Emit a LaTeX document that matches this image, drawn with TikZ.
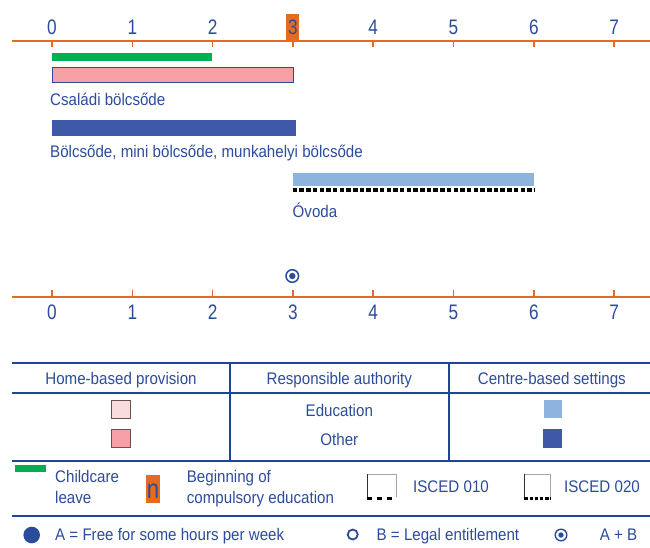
\documentclass[tikz,border=0pt]{standalone}
\usepackage{fontspec}
\setmainfont{Liberation Sans}[FakeStretch=0.9]
\newfontfamily\yearfont{Liberation Sans}[FakeStretch=0.82]

\definecolor{axisorange}{HTML}{E46C22}
\definecolor{txtblue}{HTML}{2B4C9B}
\definecolor{ruleblue}{HTML}{1F4395}
\definecolor{leavegreen}{HTML}{00B050}
\definecolor{homeother}{HTML}{F4A0A4}
\definecolor{homeedu}{HTML}{F9DCDD}
\definecolor{centreedu}{HTML}{8EB4DD}
\definecolor{centreother}{HTML}{3F59A8}
\definecolor{boxedge}{HTML}{6B5052}

\begin{document}
\begin{tikzpicture}[
        x=1pt, y=-1pt,
        axis/.style={axisorange, line width=2pt},
        yeartick/.style={axisorange, line width=1.6pt},
        year/.style={font=\yearfont\fontsize{21}{22}\selectfont, text=txtblue, inner sep=0pt, anchor=base},
        lbl/.style={font=\fontsize{16.8}{19}\selectfont, text=txtblue, inner sep=0pt, anchor=base west},
        head/.style={lbl, anchor=base},
        rule/.style={ruleblue, line width=2pt},
        keybox/.style={draw=boxedge, line width=1pt},
    ]
        \useasboundingbox (0,0) rectangle (650,547);

        % Top axis
        \fill[axisorange] (286.3,14) rectangle (298.8,40.7);
        \draw[axis] (12,40.7) -- (650,40.7);
        \foreach \n in {0,...,7} {
            \draw[yeartick] ({52+80.3*\n},40.7) -- ++(0,6.5);
            \node[year] (top\n) at ({52+80.3*\n},34.3) {\n};
        }

        % Bars
        \fill[leavegreen] (52,52.7) rectangle (211.5,60.7);
        \draw[txtblue, line width=0.8pt, fill=homeother] (52.3,67.5) rectangle (293.6,82.8);
        \node[lbl] (csaladi) at (50,105) {Családi bölcsőde};

        \fill[centreother] (51.7,120) rectangle (295.7,135.7);
        \node[lbl] (bolcsode) at (50,157.7) {Bölcsőde, mini bölcsőde, munkahelyi bölcsőde};

        \fill[centreedu] (292.7,173.3) rectangle (534,186.3);
        \draw[black, line width=4pt, dash pattern=on 4.5pt off 2.2pt] (292.7,190.3) -- (534,190.3);
        \node[lbl] (ovoda) at (292.5,217.4) {Óvoda};

        % A + B marker
        \draw[txtblue, line width=1.5pt] (292.3,276) circle (6.3);
        \fill[txtblue] (292.3,276) circle (3.2);

        % Bottom axis
        \draw[axis] (12,297) -- (650,297);
        \foreach \n in {0,...,7} {
            \draw[yeartick] ({52+80.3*\n},297) -- ++(0,-7);
            \node[year] (bot\n) at ({52+80.3*\n},319) {\n};
        }

        % Key table
        \draw[rule] (12,362.5) -- (650,362.5);
        \draw[rule] (12,392.5) -- (650,392.5);
        \draw[rule] (12,460.5) -- (650,460.5);
        \draw[rule] (12,516) -- (650,516);
        \draw[rule] (230,362.5) -- (230,460.5);
        \draw[rule] (449,362.5) -- (449,460.5);

        \node[head] (homehead) at (121,384.3) {Home-based provision};
        \node[head] (authhead) at (339.3,384.3) {Responsible authority};
        \node[head] (centrehead) at (551.8,384.3) {Centre-based settings};
        \node[head] (edu) at (339.3,416) {Education};
        \node[head] (other) at (339.3,445.7) {Other};

        \draw[keybox, fill=homeedu] (111,400.5) rectangle (130.5,418);
        \draw[keybox, fill=homeother] (111.3,429) rectangle (130.5,447.5);
        \fill[centreedu] (543.6,400.3) rectangle (562.2,418.3);
        \fill[centreother] (542.5,429) rectangle (562.2,448);

        % Legend
        \fill[leavegreen] (15,465.3) rectangle (45.7,472.3);
        \node[lbl] (leave1) at (55,482.3) {Childcare};
        \node[lbl] (leave2) at (55,503.3) {leave};

        \fill[axisorange] (146,475) rectangle (160,502.7);
        \node[lbl, anchor=base, font=\yearfont\fontsize{27}{28}\selectfont] (ncomp) at (153,498.3) {n};
        \node[lbl] (comp1) at (186.7,482.3) {Beginning of};
        \node[lbl] (comp2) at (186.7,503.3) {compulsory education};

        \draw[gray!70, line width=0.6pt] (367.5,474) -- (396,474) -- (396,497);
        \draw[black!80, line width=0.8pt] (367.5,474) -- (367.5,498);
        \draw[black, line width=2.2pt, dash pattern=on 4.4pt off 5.6pt] (367.3,498.5) -- (396.5,498.5);
        \node[lbl] (isced1) at (413,492.7) {ISCED 010};

        \draw[gray!70, line width=0.6pt] (524.5,474) -- (550,474) -- (550,497);
        \draw[black!80, line width=0.8pt] (524.5,474) -- (524.5,498);
        \draw[black, line width=3pt, dash pattern=on 3.5pt off 1.7pt] (524.3,498.3) -- (550.5,498.3);
        \node[lbl] (isced2) at (564,492.7) {ISCED 020};

        \fill[txtblue] (31.7,535) circle (8.3);
        \node[lbl] (keya) at (55,540.5) {A = Free for some hours per week};
        \draw[txtblue, line width=1.8pt] (352.7,534.5) circle (5);
        \node[lbl] (keyb) at (376.5,540.5) {B = Legal entitlement};
        \draw[txtblue, line width=1.4pt] (561,535) circle (5.8);
        \fill[txtblue] (561,535) circle (2.7);
        \node[lbl] (keyab) at (599.6,540.5) {A + B};
    \end{tikzpicture}
\end{document}
